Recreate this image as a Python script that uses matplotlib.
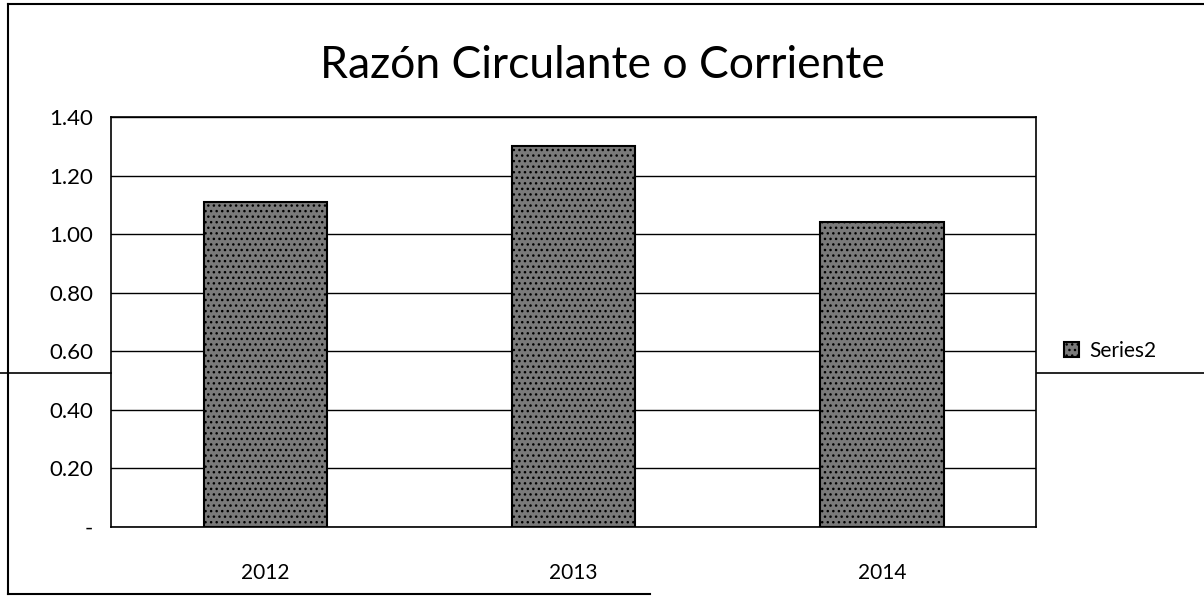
import matplotlib
matplotlib.use("Agg")
import matplotlib.pyplot as plt
from matplotlib.lines import Line2D

# data
years = ["2012", "2013", "2014"]
ratio = [1.11, 1.30, 1.04]
yticks = [0, 0.2, 0.4, 0.6, 0.8, 1.0, 1.2, 1.4]
ylabels = ["-", "0.20", "0.40", "0.60", "0.80", "1.00", "1.20", "1.40"]

plt.rcParams['font.family'] = ['Lato', 'DejaVu Sans']

fig = plt.figure(figsize=(12.04, 5.96), dpi=100)
ax = fig.add_axes([0.0922, 0.1158, 0.7686, 0.6879])

x = range(len(years))
bars = ax.bar(x, ratio, width=0.4, color='#7a7a7a', edgecolor='black',
              linewidth=1.5, hatch='...', label='Series2', zorder=3)

ax.set_xlim(-0.5, len(years) - 0.5)
ax.set_ylim(0, 1.4)
ax.set_yticks(yticks)
ax.set_yticklabels(ylabels, fontsize=16)
ax.set_xticks(list(x))
ax.set_xticklabels(years, fontsize=15)
ax.tick_params(axis='y', length=0, pad=13)
ax.tick_params(axis='x', length=0, pad=26)
ax.grid(axis='y', color='black', linewidth=1.0, zorder=0)
for s in ax.spines.values():
    s.set_color('black')
    s.set_linewidth(1.2)

fig.text(0.5, 0.89, "Razón Circulante o Corriente", ha='center', va='center',
         fontsize=32)

ax.legend(loc='center left', bbox_to_anchor=(1.01, 0.43), frameon=False,
          fontsize=15, handlelength=0.7, handleheight=0.7, handletextpad=0.5)

# outer chart border and the scan line
fig.add_artist(Line2D([8/1204, 8/1204], [2/596, 592/596], color='black', lw=1.5))
fig.add_artist(Line2D([8/1204, 1.0], [592/596, 592/596], color='black', lw=1.5))
fig.add_artist(Line2D([8/1204, 650/1204], [2/596, 2/596], color='black', lw=1.5))
fig.add_artist(Line2D([0, 0.0922], [1 - 373/596, 1 - 373/596], color='black', lw=1.2))
fig.add_artist(Line2D([0.861, 1.0], [1 - 373/596, 1 - 373/596], color='black', lw=1.2))

fig.savefig("out.png", dpi=100, facecolor='white')
